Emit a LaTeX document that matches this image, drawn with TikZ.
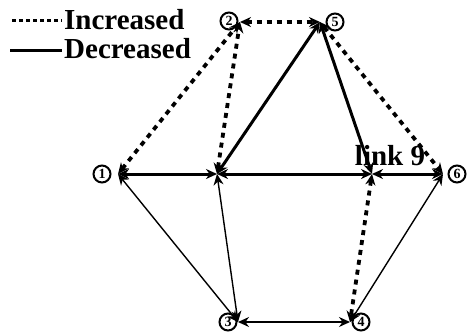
\documentclass[tikz,border=0pt]{standalone}
\usepackage{fontspec}
\setmainfont{Liberation Serif}
\usetikzlibrary{arrows.meta}
\tikzset{
  tipb/.tip={Stealth[length=11pt,width=10pt]},
  inc/.style={line width=3.8pt, dash pattern=on 5pt off 5pt, {tipb}-{tipb}},
  dec/.style={line width=3pt, {tipb}-{tipb}},
  plain/.style={line width=1.4pt, {tipb}-{tipb}},
  lab/.style={circle, draw, line width=2pt, minimum size=17pt, inner sep=0pt, font=\bfseries\fontsize{14}{14}\selectfont},
  txt/.style={inner sep=0pt, font=\bfseries\fontsize{29}{29}\selectfont}
}
\begin{document}
\begin{tikzpicture}[x=1pt,y=-1pt]
\useasboundingbox (0,0) rectangle (467,333);
% legend
\coordinate (li1) at (12,20); \coordinate (li2) at (62,20);
\coordinate (ld1) at (10,50); \coordinate (ld2) at (62,50);
\draw[line width=3pt, dash pattern=on 4pt off 3pt] (li1) -- (li2);
\draw[line width=3pt] (ld1) -- (ld2);
\node[txt, anchor=west] (tinc) at (64,20) {Increased};
\node[txt, anchor=west] (tdec) at (64,49) {Decreased};
% points
\coordinate (p1) at (118,174);
\coordinate (p2) at (240,22);
\coordinate (p5) at (320,22);
\coordinate (pa) at (217,174);
\coordinate (pb) at (372,174);
\coordinate (p6) at (443,174);
\coordinate (p3) at (238,322);
\coordinate (p4) at (350,322);
% labels
\node[lab] (l1) at (102,174) {1};
\node[lab] (l2) at (229,21) {2};
\node[lab] (l5) at (335,22) {5};
\node[lab] (l6) at (457,174) {6};
\node[lab] (l3) at (228,322) {3};
\node[lab] (l4) at (361,322) {4};
% edges
\draw[inc] (p1) -- (p2);
\draw[inc] (pa) -- (p2);
\draw[inc] (p2) -- (p5);
\draw[inc] (p5) -- (p6);
\draw[inc] (pb) -- (p4);
\draw[dec] (pa) -- (p5);
\draw[dec] (p5) -- (pb);
\draw[dec] (p1) -- (pa);
\draw[dec] (pa) -- (pb);
\draw[dec] (pb) -- (p6);
\draw[plain] (p1) -- (p3);
\draw[plain] (pa) -- (p3);
\draw[plain] (p6) -- (p4);
\draw[plain] (p3) -- (p4);
\node[txt] (link) at (390,156) {link 9};
\end{tikzpicture}
\end{document}
